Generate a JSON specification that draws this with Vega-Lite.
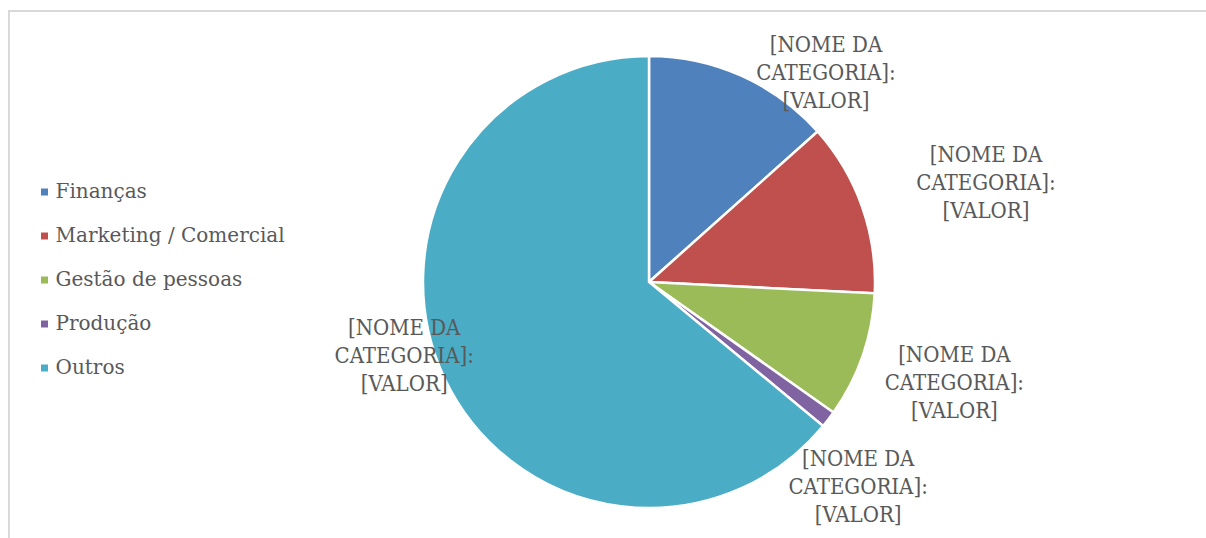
{
  "$schema": "https://vega.github.io/schema/vega-lite/v6.json",
  "width": 1280,
  "height": 542,
  "autosize": {"type": "none"},
  "padding": {"left": 9, "top": 11, "right": 0, "bottom": 0},
  "background": "white",
  "view": {"stroke": "#d9d9d9", "strokeWidth": 2},
  "config": {
    "view": {"stroke": "#d9d9d9", "strokeWidth": 2},
    "text": {"font": "DejaVu Serif Condensed, DejaVu Serif", "fontSize": 22, "lineHeight": 28, "color": "#595959", "align": "center", "baseline": "middle"}
  },
  "data": {
    "values": [
      {"categoria": "Finanças", "valor": 13.4, "ordem": 1},
      {"categoria": "Marketing / Comercial", "valor": 12.4, "ordem": 2},
      {"categoria": "Gestão de pessoas", "valor": 9.0, "ordem": 3},
      {"categoria": "Produção", "valor": 1.2, "ordem": 4},
      {"categoria": "Outros", "valor": 64.0, "ordem": 5}
    ]
  },
  "encoding": {
    "theta": {"field": "valor", "type": "quantitative", "stack": true},
    "order": {"field": "ordem", "type": "quantitative", "sort": "ascending"},
    "detail": {"field": "categoria", "type": "nominal"}
  },
  "layer": [
    {
      "mark": {"type": "arc", "outerRadius": 226, "stroke": "white", "strokeWidth": 2.5},
      "encoding": {
        "color": {
          "field": "categoria",
          "type": "nominal",
          "scale": {
            "domain": ["Finanças", "Marketing / Comercial", "Gestão de pessoas", "Produção", "Outros"],
            "range": ["#4F81BD", "#C0504D", "#9BBB59", "#8064A2", "#4BACC6"]
          },
          "legend": {
            "title": null,
            "orient": "none",
            "legendX": 25.5,
            "legendY": 171,
            "padding": 0,
            "symbolType": "square",
            "symbolSize": 49,
            "symbolStrokeWidth": 0,
            "labelFont": "DejaVu Serif",
            "labelFontSize": 20,
            "labelColor": "#595959",
            "labelOffset": 1,
            "rowPadding": 24,
            "labelLimit": 400
          }
        }
      }
    },
    {
      "mark": {"type": "text", "radius": 296, "thetaOffset": 0.22},
      "encoding": {
        "text": {"condition": {"test": "datum.categoria === 'Finanças'", "value": ["[NOME DA", "CATEGORIA]:", "[VALOR]"]}, "value": ""}
      }
    },
    {
      "mark": {"type": "text", "radius": 360, "thetaOffset": -0.02},
      "encoding": {
        "text": {"condition": {"test": "datum.categoria === 'Marketing / Comercial'", "value": ["[NOME DA", "CATEGORIA]:", "[VALOR]"]}, "value": ""}
      }
    },
    {
      "mark": {"type": "text", "radius": 314, "thetaOffset": -0.098},
      "encoding": {
        "text": {"condition": {"test": "datum.categoria === 'Gestão de pessoas'", "value": ["[NOME DA", "CATEGORIA]:", "[VALOR]"]}, "value": ""}
      }
    },
    {
      "mark": {"type": "text", "radius": 274, "thetaOffset": 0.049},
      "encoding": {
        "text": {"condition": {"test": "datum.categoria === 'Produção'", "value": ["[NOME DA", "CATEGORIA]:", "[VALOR]"]}, "value": ""}
      }
    },
    {
      "mark": {"type": "text", "radius": 249, "thetaOffset": 0.256},
      "encoding": {
        "text": {"condition": {"test": "datum.categoria === 'Outros'", "value": ["[NOME DA", "CATEGORIA]:", "[VALOR]"]}, "value": ""}
      }
    }
  ]
}
